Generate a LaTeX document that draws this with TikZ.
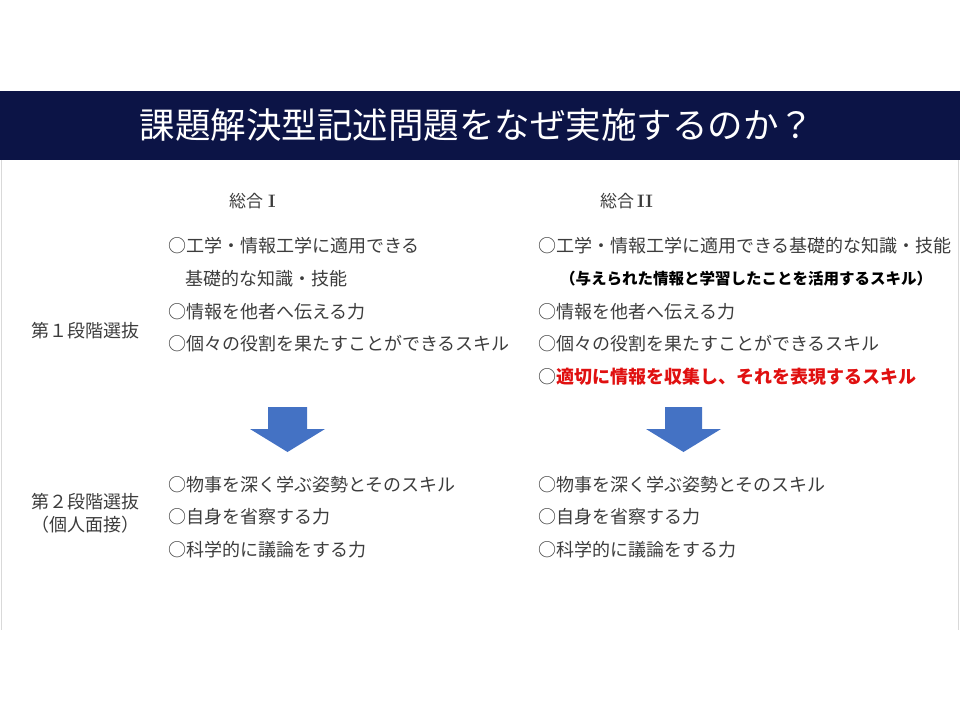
\documentclass[tikz,border=0pt]{standalone}
\usepackage{fontspec}
\newfontfamily\jp{Noto Sans CJK JP}
\definecolor{titlenavy}{RGB}{12, 20, 70}
\definecolor{arrowblue}{RGB}{68, 114, 196}
\definecolor{textgray}{RGB}{60, 60, 60}
\definecolor{skillred}{RGB}{224, 16, 16}
\definecolor{framegray}{RGB}{217, 217, 217}

\begin{document}
\begin{tikzpicture}[x=1pt, y=-1pt,
  item/.style={anchor=west, inner sep=0pt, text=textgray, font=\jp\fontsize{18}{18}\selectfont},
  stage/.style={align=center, inner sep=0pt, text=textgray, font=\jp\fontsize{18}{23}\selectfont},
  course/.style={anchor=west, inner sep=0pt, text=textgray, font=\jp\fontsize{17}{17}\selectfont}]
  \useasboundingbox (0,0) rectangle (960,720);

  % Title
  \node[fill=titlenavy, minimum width=960pt, minimum height=69pt, inner sep=0pt, text=white, font=\jp\fontsize{35.5}{40}\selectfont] (title) at (480,125.5) {\hspace*{-6pt}課題解決型記述問題をなぜ実施するのか？};
  \draw[framegray, line width=1pt] (1,160) -- (1,630);
  \draw[framegray, line width=1pt] (958.5,160) -- (958.5,630);

  % Course headings
  \node[course] (sogo1) at (229,201) {総合\hspace{5pt}{\rmfamily\bfseries\fontsize{18}{18}\selectfont I}};
  \node[course] (sogo2) at (600,201) {総合\hspace{3pt}{\rmfamily\bfseries\fontsize{18}{18}\selectfont II}};

  % Stage labels
  \node[stage] (stage1) at (85.5,331) {第１段階選抜};
  \node[stage] (stage2) at (85.5,513) {第２段階選抜\\（個人面接）};

  % First stage, left
  \node[item] (L1) at (168,246) {○工学・情報工学に適用できる};
  \node[item] (L1b) at (185,279) {基礎的な知識・技能};
  \node[item] (L2) at (168,312) {○情報を他者へ伝える力};
  \node[item] (L3) at (168,344) {○個々の役割を果たすことができるスキル};

  % First stage, right
  \node[item] (R1) at (538,246) {○工学・情報工学に適用できる基礎的な知識・技能};
  \node[item, font=\jp\bfseries\fontsize{15.5}{15.5}\selectfont, text=black] (R1b) at (560,279) {（与えられた情報と学習したことを活用するスキル）};
  \node[item] (R2) at (538,312) {○情報を他者へ伝える力};
  \node[item] (R3) at (538,344) {○個々の役割を果たすことができるスキル};
  \node[item] (R4) at (538,377) {○\textcolor{skillred}{\bfseries 適切に情報を収集し、それを表現するスキル}};

  % Arrows
  \fill[arrowblue] (268,407) -- (307,407) -- (307,429) -- (325,429) -- (287.5,452) -- (250,429) -- (268,429) -- cycle;
  \fill[arrowblue] (665,407) -- (702,407) -- (702,429) -- (721,429) -- (683.5,452) -- (646,429) -- (665,429) -- cycle;

  % Second stage
  \node[item] (L4) at (168,485) {○物事を深く学ぶ姿勢とそのスキル};
  \node[item] (L5) at (168,517) {○自身を省察する力};
  \node[item] (L6) at (168,550) {○科学的に議論をする力};
  \node[item] (R5) at (538,485) {○物事を深く学ぶ姿勢とそのスキル};
  \node[item] (R6) at (538,517) {○自身を省察する力};
  \node[item] (R7) at (538,550) {○科学的に議論をする力};
\end{tikzpicture}
\end{document}
